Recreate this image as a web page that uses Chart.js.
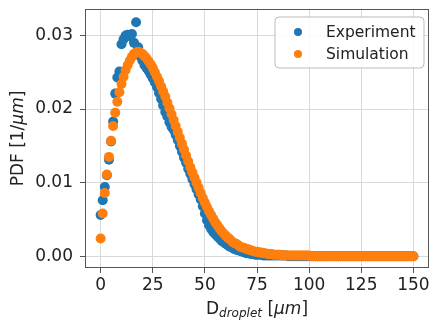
<!DOCTYPE html>
<html>
<head>
<meta charset="utf-8">
<script src="https://cdn.jsdelivr.net/npm/chart.js@4"></script>
<style>
  html, body { margin: 0; padding: 0; background: #fff; }
  canvas { display: block; }
</style>
</head>
<body>
<canvas id="pdf" width="434" height="322"></canvas>
<script>
// droplet diameter [um], one point per micron
var diam = [];
for (var d = 0; d <= 150; d++) { diam.push(d); }

var experiment = [
  0.0056, 0.0076, 0.0094, 0.0110, 0.0131, 0.0156, 0.0183, 0.0221, 0.0243, 0.0251,
  0.0288, 0.0295, 0.0300, 0.0301, 0.0299, 0.0302, 0.0290, 0.0318, 0.0284, 0.0272,
  0.0266, 0.0260, 0.0256, 0.0252, 0.0247, 0.0242, 0.0236, 0.0230, 0.0222, 0.0214,
  0.0205, 0.0196, 0.0190, 0.0182, 0.0176, 0.0172, 0.0165, 0.0158, 0.0150, 0.0142,
  0.0134, 0.0127, 0.0119, 0.0112, 0.0105, 0.0098, 0.0091, 0.0084, 0.0077, 0.0068,
  0.0058, 0.0049, 0.0042, 0.0037, 0.0033, 0.0030, 0.0027, 0.0024, 0.0021, 0.0019,
  0.0017, 0.0015, 0.0013, 0.0012, 0.0010, 0.0009, 0.0008, 0.0007, 0.0006, 0.0005,
  0.0004, 0.0004, 0.0003, 0.0003, 0.0002, 0.0002, 0.0002, 0.0002, 0.0001, 0.0001,
  0.0001, 0.0001, 0.0001, 0.0001, 0.0001, 0.0001, 0.0001, 0.0001, 0.0001, 0.0001,
  0.0000, 0.0000, 0.0000, 0.0000, 0.0000, 0.0000, 0.0000, 0.0000, 0.0000, 0.0000,
  0.0000, 0.0000, 0.0000, 0.0000, 0.0000, 0.0000, 0.0000, 0.0000, 0.0000, 0.0000,
  0.0000, 0.0000, 0.0000, 0.0000, 0.0000, 0.0000, 0.0000, 0.0000, 0.0000, 0.0000,
  0.0000, 0.0000, 0.0000, 0.0000, 0.0000, 0.0000, 0.0000, 0.0000, 0.0000, 0.0000,
  0.0000, 0.0000, 0.0000, 0.0000, 0.0000, 0.0000, 0.0000, 0.0000, 0.0000, 0.0000,
  0.0000, 0.0000, 0.0000, 0.0000, 0.0000, 0.0000, 0.0000, 0.0000, 0.0000, 0.0000,
  0.0000
];

var simulation = [
  0.0024, 0.0058, 0.0086, 0.0111, 0.0135, 0.0157, 0.0177, 0.0195, 0.0210, 0.0223,
  0.0234, 0.0244, 0.0253, 0.0260, 0.0266, 0.0271, 0.0275, 0.0277, 0.0278, 0.0277,
  0.0275, 0.0272, 0.0269, 0.0265, 0.0261, 0.0256, 0.0250, 0.0244, 0.0238, 0.0231,
  0.0224, 0.0217, 0.0209, 0.0201, 0.0193, 0.0185, 0.0177, 0.0169, 0.0161, 0.0153,
  0.0145, 0.0137, 0.0129, 0.0121, 0.0114, 0.0107, 0.0100, 0.0093, 0.0086, 0.0079,
  0.0073, 0.0067, 0.0061, 0.0056, 0.0051, 0.0046, 0.0042, 0.0038, 0.0034, 0.0031,
  0.0028, 0.0025, 0.0023, 0.0020, 0.0018, 0.0017, 0.0015, 0.0013, 0.0012, 0.0011,
  0.0010, 0.0009, 0.0008, 0.0007, 0.0006, 0.0006, 0.0005, 0.0005, 0.0004, 0.0004,
  0.0003, 0.0003, 0.0003, 0.0002, 0.0002, 0.0002, 0.0002, 0.0001, 0.0001, 0.0001,
  0.0001, 0.0001, 0.0001, 0.0001, 0.0001, 0.0001, 0.0001, 0.0001, 0.0001, 0.0001,
  0.0001, 0.0000, 0.0000, 0.0000, 0.0000, 0.0000, 0.0000, 0.0000, 0.0000, 0.0000,
  0.0000, 0.0000, 0.0000, 0.0000, 0.0000, 0.0000, 0.0000, 0.0000, 0.0000, 0.0000,
  0.0000, 0.0000, 0.0000, 0.0000, 0.0000, 0.0000, 0.0000, 0.0000, 0.0000, 0.0000,
  0.0000, 0.0000, 0.0000, 0.0000, 0.0000, 0.0000, 0.0000, 0.0000, 0.0000, 0.0000,
  0.0000, 0.0000, 0.0000, 0.0000, 0.0000, 0.0000, 0.0000, 0.0000, 0.0000, 0.0000,
  0.0000
];

var xTicks = [0, 25, 50, 75, 100, 125, 150];
var yTicks = [0.00, 0.01, 0.02, 0.03];
var seriesNames = ['Experiment', 'Simulation'];
var seriesColors = ['#1f77b4', '#ff7f0e'];

function pts(ys) {
  var out = [];
  for (var i = 0; i < diam.length; i++) {
    out.push({ x: diam[i], y: ys[i] });
  }
  return out;
}

var FONT = "'DejaVu Sans', sans-serif";
var ink = '#222';
var frameColor = '#555';

// frame, axis titles with the math bits, legend inside the axes
const decorations = {
  id: 'decorations',
  afterDraw(chart) {
    var ctx = chart.ctx;
    var a = chart.chartArea;
    ctx.save();
    ctx.strokeStyle = frameColor;
    ctx.lineWidth = 1;
    ctx.strokeRect(a.left + 0.5, a.top + 0.5, a.right - a.left - 1, a.bottom - a.top - 1);

    ctx.fillStyle = ink;
    ctx.textBaseline = 'alphabetic';

    // x title: D_droplet [um]
    var parts = [
      { t: 'D', f: '17px ' + FONT, dy: 0 },
      { t: 'droplet', f: 'italic 12px ' + FONT, dy: 3 },
      { t: ' [', f: '17px ' + FONT, dy: 0 },
      { t: 'μm', f: 'italic 17px ' + FONT, dy: 0 },
      { t: ']', f: '17px ' + FONT, dy: 0 }
    ];
    var w = 0;
    parts.forEach(function (p) { ctx.font = p.f; p.w = ctx.measureText(p.t).width; w += p.w; });
    var x = (a.left + a.right) / 2 - w / 2;
    parts.forEach(function (p) {
      ctx.font = p.f;
      ctx.fillText(p.t, x, 314 + p.dy);
      x += p.w;
    });

    // y title: PDF [1/um]
    var yparts = [
      { t: 'PDF [1/', f: '17px ' + FONT },
      { t: 'μm', f: 'italic 17px ' + FONT },
      { t: ']', f: '17px ' + FONT }
    ];
    w = 0;
    yparts.forEach(function (p) { ctx.font = p.f; p.w = ctx.measureText(p.t).width; w += p.w; });
    ctx.save();
    ctx.translate(23, (a.top + a.bottom) / 2);
    ctx.rotate(-Math.PI / 2);
    x = -w / 2;
    yparts.forEach(function (p) {
      ctx.font = p.f;
      ctx.fillText(p.t, x, 0);
      x += p.w;
    });
    ctx.restore();

    // legend
    var lx = 275, ly = 17, lw = 149, lh = 51, r = 4;
    ctx.beginPath();
    ctx.moveTo(lx + r, ly);
    ctx.arcTo(lx + lw, ly, lx + lw, ly + lh, r);
    ctx.arcTo(lx + lw, ly + lh, lx, ly + lh, r);
    ctx.arcTo(lx, ly + lh, lx, ly, r);
    ctx.arcTo(lx, ly, lx + lw, ly, r);
    ctx.closePath();
    ctx.fillStyle = 'rgba(255,255,255,0.85)';
    ctx.fill();
    ctx.strokeStyle = '#bbb';
    ctx.stroke();

    ctx.font = '15.5px ' + FONT;
    ctx.textBaseline = 'middle';
    for (var i = 0; i < seriesNames.length; i++) {
      var cy = 32 + i * 22;
      ctx.fillStyle = seriesColors[i];
      ctx.beginPath();
      ctx.arc(298, cy, 4, 0, Math.PI * 2);
      ctx.fill();
      ctx.fillStyle = ink;
      ctx.fillText(seriesNames[i], 326, cy + 1);
    }
    ctx.restore();
  }
};

const dataPdf = {
  datasets: [{
    label: seriesNames[0],
    data: pts(experiment),
    backgroundColor: seriesColors[0],
    borderWidth: 0,
    pointRadius: 5,
    order: 1
  }, {
    label: seriesNames[1],
    data: pts(simulation),
    backgroundColor: seriesColors[1],
    borderWidth: 0,
    pointRadius: 5,
    order: 0
  }]
};

const configPdf = {
  type: 'scatter',
  data: dataPdf,
  options: {
    responsive: false,
    animation: false,
    devicePixelRatio: 1,
    layout: { padding: { left: 0, right: 3, top: 9, bottom: 0 } },
    plugins: {
      legend: { display: false },
      tooltip: { enabled: false }
    },
    scales: {
      x: {
        type: 'linear',
        min: -7.5,
        max: 157.5,
        afterBuildTicks: function (s) { s.ticks = xTicks.map(function (v) { return { value: v }; }); },
        afterFit: function (s) { s.height = 54; s.paddingLeft = 0; s.paddingRight = 0; },
        grid: { color: '#d9d9d9', lineWidth: 1, tickColor: frameColor, tickLength: 5 },
        border: { display: false },
        ticks: {
          font: { family: FONT, size: 17 },
          color: ink,
          padding: 2,
          maxRotation: 0,
          callback: function (v) { return String(v); }
        }
      },
      y: {
        type: 'linear',
        min: -0.0016,
        max: 0.0336,
        afterBuildTicks: function (s) { s.ticks = yTicks.map(function (v) { return { value: v }; }); },
        afterFit: function (s) { s.width = 85; s.paddingTop = 0; s.paddingBottom = 0; },
        grid: { color: '#d9d9d9', lineWidth: 1, tickColor: frameColor, tickLength: 5 },
        border: { display: false },
        ticks: {
          font: { family: FONT, size: 17 },
          color: ink,
          padding: 7,
          callback: function (v) { return v.toFixed(2); }
        }
      }
    }
  },
  plugins: [decorations]
};

const myChartPdf = new Chart(
  document.getElementById('pdf'),
  configPdf
);
</script>
</body>
</html>
